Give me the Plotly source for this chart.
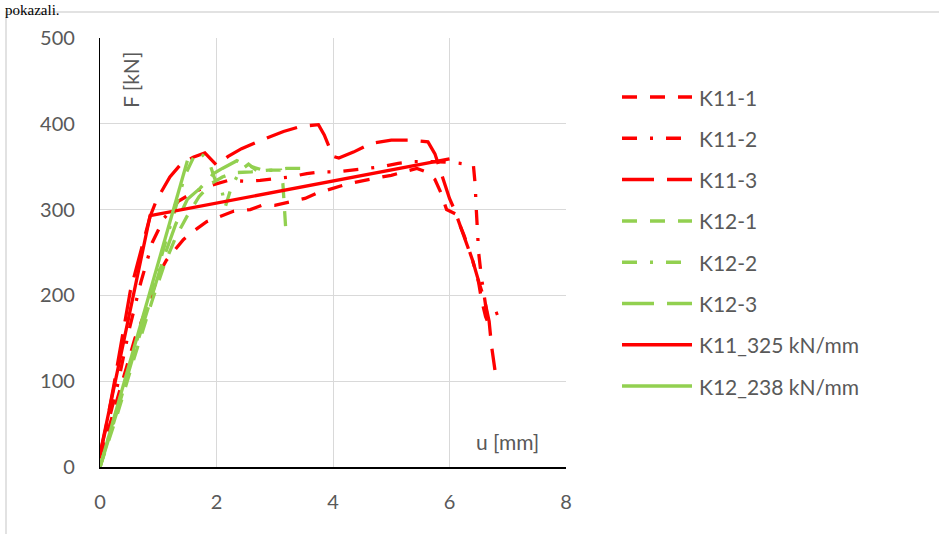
import plotly.graph_objects as go

# ---------------- data ----------------
k11_1_u = [0, 0.3, 0.6, 0.86, 1.0, 1.14, 1.29, 1.43, 1.63, 1.83, 2.06, 2.29, 2.58, 2.78, 3.0, 3.52,
           3.72, 4.0, 4.2, 4.46, 4.69, 5.0, 5.44, 5.6, 5.75, 5.85, 5.95, 6.1, 6.25, 6.4, 6.5, 6.55, 6.62, 6.7]
k11_1_F = [10, 80, 150, 195, 224, 241, 253, 265, 276, 286, 292, 298, 300, 305, 305, 313,
           319, 325, 329, 333, 336, 340, 348, 344, 335, 320, 300, 295, 270, 240, 215, 195, 175, 162]

k11_2_u = [0, 0.3, 0.5, 0.7, 0.9, 1.1, 1.35, 1.6, 1.8, 2.03, 2.2, 2.5, 2.75, 3.0, 3.26, 3.55, 3.8,
           4.06, 4.35, 4.58, 4.84, 5.12, 5.37, 5.7, 6.05, 6.41, 6.44, 6.46, 6.48, 6.5, 6.55, 6.6,
           6.65, 6.85, 7.0]
k11_2_F = [12, 95, 160, 215, 262, 290, 310, 320, 326, 331, 334, 333, 334, 336, 338, 342, 344,
           344, 346, 348, 350, 354, 356, 356, 355, 352, 330, 300, 270, 250, 220, 195,
           175, 180, 176]

k11_3_u = [0, 0.1, 0.25, 0.4, 0.52, 0.66, 0.77, 0.86, 0.97, 1.2, 1.4, 1.6, 1.8, 2.0, 2.2, 2.43, 2.7,
           3.15, 3.45, 3.75, 3.85, 4.0, 4.1, 4.35, 4.65, 5.0, 5.3, 5.63, 5.75, 5.84, 6.0, 6.09,
           6.27, 6.4, 6.52, 6.6, 6.68, 6.72, 6.78]
k11_3_F = [15, 45, 100, 160, 205, 241, 268, 292, 311, 338, 354, 361, 366, 352, 362, 371, 379,
           391, 397, 399, 387, 362, 360, 367, 377, 381, 381, 379, 365, 346, 313, 299,
           263, 240, 212, 195, 170, 142, 113]

k12_1_u = [0, 0.3, 0.6, 0.9, 1.1, 1.3, 1.5, 1.7, 1.9, 2.1, 2.3, 2.6, 2.9, 3.1, 3.14, 3.16, 3.19]
k12_1_F = [0, 62, 130, 195, 235, 268, 293, 315, 330, 338, 343, 344, 346, 346, 330, 300, 276]

k12_2_u = [0, 0.3, 0.6, 0.9, 1.1, 1.3, 1.46, 1.6, 1.69, 1.8, 1.9, 1.97, 2.09, 2.15, 2.25, 2.4,
           2.55, 2.7, 3.0, 3.2, 3.46, 3.6]
k12_2_F = [0, 70, 142, 212, 258, 303, 340, 360, 368, 361, 350, 336, 323, 303, 325, 345,
           353, 345, 346, 348, 348, 338]

k12_3_u = [0, 0.3, 0.6, 0.9, 1.1, 1.3, 1.5, 1.72, 1.95, 2.1, 2.35, 2.5, 2.75]
k12_3_F = [0, 66, 136, 203, 245, 283, 312, 325, 342, 348, 357, 352, 347]

k11_lin_u = [0, 0.86, 6.0]
k11_lin_F = [15, 293, 359]

k12_lin_u = [0, 1.5]
k12_lin_F = [0, 357]

names = ["K11-1", "K11-2", "K11-3", "K12-1", "K12-2", "K12-3", "K11_325 kN/mm", "K12_238 kN/mm"]
xs = [k11_1_u, k11_2_u, k11_3_u, k12_1_u, k12_2_u, k12_3_u, k11_lin_u, k12_lin_u]
ys = [k11_1_F, k11_2_F, k11_3_F, k12_1_F, k12_2_F, k12_3_F, k11_lin_F, k12_lin_F]

x_ticks = [0, 2, 4, 6, 8]
y_ticks = [0, 100, 200, 300, 400, 500]

# ---------------- styles ----------------
RED = "#FF0000"
GREEN = "#92D050"
DASH = "15px,13px"
DASHDOT = "15px,13px,3px,13px"
LONGDASH = "32px,13px"
colors = [RED, RED, RED, GREEN, GREEN, GREEN, RED, GREEN]
dashes = [DASH, DASHDOT, LONGDASH, DASH, DASHDOT, LONGDASH, "solid", "solid"]

FONT = "Lato"
GREY = "#595959"
FS = 20

W_FIG, H_FIG = 939, 534
L, T, W, H = 100, 38, 466, 429


def px(x):
    return (x - L) / W


def py(y):
    return (T + H - y) / H


fig = go.Figure()
for n, x, y, c, d in zip(names, xs, ys, colors, dashes):
    fig.add_trace(go.Scatter(x=x, y=y, name=n, mode="lines",
                             line=dict(color=c, width=3.3, dash=d), showlegend=False))

# custom legend (long line samples like the original)
shapes = []
annotations = []
leg_y0, leg_dy = 97, 41.3
for i, (n, c, d) in enumerate(zip(names, colors, dashes)):
    yy = py(leg_y0 + i * leg_dy)
    shapes.append(dict(type="line", xref="paper", yref="paper", x0=px(622), x1=px(692),
                       y0=yy, y1=yy, line=dict(color=c, width=3.5, dash=d)))
    annotations.append(dict(xref="paper", yref="paper", x=px(697), y=yy, text=n,
                            showarrow=False, xanchor="left", yanchor="middle",
                            font=dict(family=FONT, size=21, color=GREY)))

# outer chart frame
shapes.append(dict(type="rect", xref="paper", yref="paper", x0=px(6), x1=px(960),
                   y0=py(560), y1=py(12), line=dict(color="#D9D9D9", width=1.5),
                   fillcolor="rgba(0,0,0,0)", layer="below"))

# axis titles inside the plot area
annotations.append(dict(xref="paper", yref="paper", x=px(130), y=py(80), text="F [kN]",
                        textangle=-90, showarrow=False, xanchor="center", yanchor="middle",
                        font=dict(family=FONT, size=21, color=GREY)))
annotations.append(dict(xref="paper", yref="paper", x=px(507), y=py(441), text="u [mm]",
                        showarrow=False, xanchor="center", yanchor="middle",
                        font=dict(family=FONT, size=21, color=GREY)))
# document text above the chart
annotations.append(dict(xref="paper", yref="paper", x=px(3), y=py(0), text="pokazali.",
                        showarrow=False, xanchor="left", yanchor="top",
                        font=dict(family="Liberation Serif", size=15, color="#000000")))

fig.update_layout(
    width=W_FIG, height=H_FIG, autosize=False,
    margin=dict(l=L, r=W_FIG - L - W, t=T, b=H_FIG - T - H, pad=0),
    paper_bgcolor="white", plot_bgcolor="white",
    shapes=shapes, annotations=annotations,
    xaxis=dict(range=[0, 8], tickvals=x_ticks, showgrid=True, gridcolor="#D9D9D9", gridwidth=1,
               zeroline=False, showline=True, linecolor="black", linewidth=2,
               ticks="", ticklabelstandoff=16,
               tickfont=dict(family=FONT, size=FS, color=GREY)),
    yaxis=dict(range=[0, 500], tickvals=y_ticks, showgrid=True, gridcolor="#D9D9D9", gridwidth=1,
               zeroline=False, showline=True, linecolor="black", linewidth=1.2,
               ticks="", ticklabelstandoff=20,
               tickfont=dict(family=FONT, size=FS, color=GREY)),
)

fig.write_html("out.html")
